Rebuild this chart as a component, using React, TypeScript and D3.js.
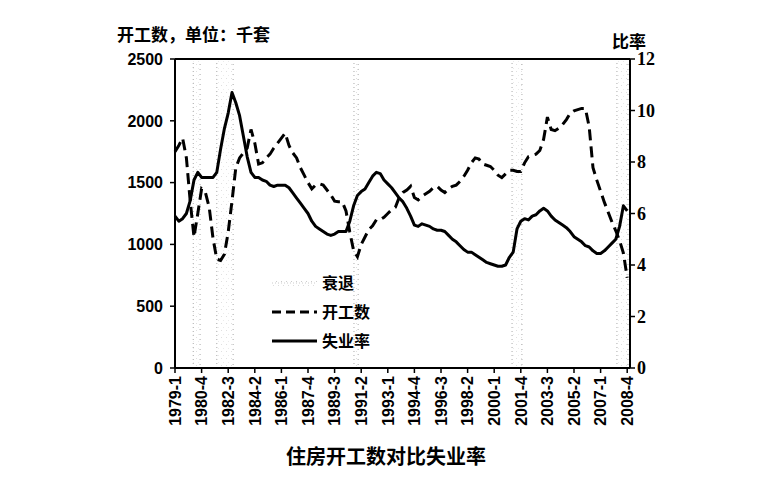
import React from 'react';
import * as d3 from 'd3';

// 季度类别 1979-1 ... 2008-4
const years = d3.range(1979, 2009);
const quarters = years.flatMap(y => [1, 2, 3, 4].map(q => `${y}-${q}`));

// x轴显示的标签
const xTickLabels = [
  '1979-1', '1980-4', '1982-3', '1984-2', '1986-1', '1987-4', '1989-3', '1991-2', '1993-1',
  '1994-4', '1996-3', '1998-2', '2000-1', '2001-4', '2003-3', '2005-2', '2007-1', '2008-4',
];

// 住房开工数（千套）
const housingStarts = [
  1750, 1800, 1860, 1700, 1350, 1060, 1250, 1450, 1420, 1300,
  1050, 880, 870, 920, 1100, 1350, 1620, 1700, 1740, 1780,
  1930, 1820, 1650, 1660, 1700, 1730, 1780, 1820, 1860, 1900,
  1800, 1740, 1700, 1620, 1560, 1500, 1450, 1480, 1490, 1480,
  1440, 1400, 1350, 1345, 1345, 1270, 1100, 950, 900, 1000,
  1060, 1120, 1150, 1200, 1200, 1220, 1250, 1280, 1300, 1380,
  1420, 1440, 1470, 1380, 1360, 1390, 1410, 1430, 1460, 1470,
  1440, 1420, 1450, 1470, 1480, 1510, 1550, 1600, 1660, 1700,
  1690, 1650, 1640, 1630, 1600, 1560, 1540, 1570, 1600, 1600,
  1590, 1590, 1660, 1710, 1720, 1730, 1760, 1850, 2030, 1930,
  1920, 1940, 1970, 2010, 2060, 2080, 2090, 2100, 2100, 1950,
  1620, 1520, 1430, 1340, 1260, 1180, 1110, 1030, 930, 730,
];

// 失业率（%）
const unemployment = [
  5.9, 5.7, 5.8, 6.0, 6.5, 7.3, 7.6, 7.4, 7.4, 7.4,
  7.4, 7.6, 8.5, 9.3, 9.9, 10.7, 10.3, 9.8, 9.0, 8.2,
  7.6, 7.4, 7.4, 7.3, 7.25, 7.1, 7.05, 7.1, 7.1, 7.1,
  7.0, 6.8, 6.6, 6.4, 6.2, 6.0, 5.7, 5.5, 5.4, 5.3,
  5.2, 5.15, 5.2, 5.3, 5.3, 5.3, 5.7, 6.3, 6.7, 6.85,
  6.95, 7.2, 7.45, 7.6, 7.55, 7.3, 7.15, 7.0, 6.8, 6.6,
  6.45, 6.2, 5.9, 5.55, 5.5, 5.6, 5.55, 5.5, 5.4, 5.35,
  5.35, 5.3, 5.15, 5.0, 4.9, 4.75, 4.6, 4.5, 4.5, 4.4,
  4.3, 4.2, 4.1, 4.05, 4.0, 3.95, 3.95, 4.0, 4.3, 4.5,
  5.4, 5.7, 5.8, 5.75, 5.9, 5.95, 6.1, 6.2, 6.1, 5.9,
  5.75, 5.65, 5.55, 5.45, 5.3, 5.1, 5.0, 4.9, 4.75, 4.7,
  4.55, 4.45, 4.45, 4.55, 4.7, 4.85, 5.0, 5.5, 6.3, 6.1,
];

// 衰退期（以季度序号表示的起止位置）
const recessions: [number, number][] = [
  [4.8, 6.6],
  [11.0, 15.3],
  [47.1, 48.2],
  [88.7, 91.3],
  [116.3, 119.2],
];

const leftTicks = [0, 500, 1000, 1500, 2000, 2500];
const rightTicks = [0, 2, 4, 6, 8, 10, 12];

export default function App() {
  const left = 175;
  const right = 630;
  const top = 59;
  const bottom = 368;

  const xIdx = d3.scaleLinear().domain([0, quarters.length - 1]).range([left, 627.2]);
  const x = d3.scalePoint<string>().domain(quarters).range([left, 627.2]);
  const yL = d3.scaleLinear().domain([0, 2500]).range([bottom, top]);
  const yR = d3.scaleLinear().domain([0, 12]).range([bottom, top]);

  const startsLine = d3.line<number>()
    .x((_, i) => x(quarters[i]) ?? 0)
    .y(d => yL(d));
  const unempLine = d3.line<number>()
    .x((_, i) => x(quarters[i]) ?? 0)
    .y(d => yR(d));

  const sans = '"Liberation Sans", Arial, sans-serif';
  const serif = '"Liberation Serif", "Times New Roman", serif';
  const cjk = '"Noto Sans CJK SC", sans-serif';

  return (
    <svg width={784} height={493} style={{ position: 'absolute', left: 0, top: 0, background: '#fff' }}>
      <defs>
        <pattern id="stipple" width={5} height={7} patternUnits="userSpaceOnUse">
          <rect x={1} y={1} width={1} height={1} fill="#ccc" />
          <rect x={3} y={5} width={1} height={1} fill="#ddd" />
        </pattern>
      </defs>

      {/* 衰退期 */}
      {recessions.map(([s, e], i) => (
        <g key={i}>
          <rect x={xIdx(s)} y={top} width={xIdx(e) - xIdx(s)} height={bottom - top} fill="url(#stipple)" opacity={0.6} />
          <line x1={xIdx(s)} x2={xIdx(s)} y1={top} y2={bottom} stroke="#aaa" strokeWidth={1} strokeDasharray="1 3" />
          <line x1={xIdx(e)} x2={xIdx(e)} y1={top} y2={bottom} stroke="#aaa" strokeWidth={1} strokeDasharray="1 4" />
        </g>
      ))}

      {/* 边框 */}
      <line x1={left} x2={right} y1={top} y2={top} stroke="#000" strokeWidth={2} />
      <line x1={left} x2={right} y1={bottom} y2={bottom} stroke="#000" strokeWidth={2} />
      <line x1={left} x2={left} y1={top} y2={bottom} stroke="#000" strokeWidth={2} />
      <line x1={right} x2={right} y1={top} y2={bottom} stroke="#000" strokeWidth={2} />

      {/* 左轴 */}
      {leftTicks.map(t => (
        <g key={t}>
          <line x1={left - 5} x2={left} y1={yL(t)} y2={yL(t)} stroke="#000" strokeWidth={1.5} />
          <text x={left - 12} y={yL(t)} dy="0.36em" textAnchor="end" fontFamily={sans} fontWeight="bold" fontSize={16}>{t}</text>
        </g>
      ))}

      {/* 右轴 */}
      {rightTicks.map(t => (
        <g key={t}>
          <line x1={right} x2={right + 5} y1={yR(t)} y2={yR(t)} stroke="#000" strokeWidth={1.5} />
          <text x={right + 7} y={yR(t)} dy="0.36em" textAnchor="start" fontFamily={serif} fontWeight="bold" fontSize={18}>{t}</text>
        </g>
      ))}

      {/* x轴 */}
      {xTickLabels.map(q => {
        const px = x(q) ?? 0;
        return (
          <g key={q}>
            <line x1={px} x2={px} y1={bottom} y2={bottom + 5} stroke="#000" strokeWidth={1.5} />
            <text transform={`translate(${px},${bottom + 8}) rotate(-90)`} dy="0.36em" textAnchor="end" fontFamily={sans} fontWeight="bold" fontSize={16}>{q}</text>
          </g>
        );
      })}

      {/* 数据线 */}
      <path d={startsLine(housingStarts) ?? ''} fill="none" stroke="#000" strokeWidth={3} strokeDasharray="11 6" />
      <path d={unempLine(unemployment) ?? ''} fill="none" stroke="#000" strokeWidth={3} strokeLinejoin="round" />

      {/* 图例 */}
      <g fontFamily={cjk} fontWeight="bold" fontSize={16}>
        <rect x={272} y={279} width={45} height={8} fill="url(#stipple)" />
        <line x1={272} x2={317} y1={283} y2={283} stroke="#ccc" strokeWidth={1} strokeDasharray="1 2" />
        <text x={322} y={283} dy="0.36em">衰退</text>
        <line x1={272} x2={317} y1={312} y2={312} stroke="#000" strokeWidth={3} strokeDasharray="9 5" />
        <text x={322} y={312} dy="0.36em">开工数</text>
        <line x1={272} x2={317} y1={341} y2={341} stroke="#000" strokeWidth={3} />
        <text x={322} y={341} dy="0.36em">失业率</text>
      </g>

      {/* 标题 */}
      <text x={117} y={35} dy="0.36em" fontFamily={cjk} fontWeight="bold" fontSize={17}>开工数，单位：千套</text>
      <text x={612} y={42} dy="0.36em" fontFamily={cjk} fontWeight="bold" fontSize={17}>比率</text>
      <text x={386} y={457} dy="0.36em" textAnchor="middle" fontFamily={cjk} fontWeight="bold" fontSize={20}>住房开工数对比失业率</text>
    </svg>
  );
}
